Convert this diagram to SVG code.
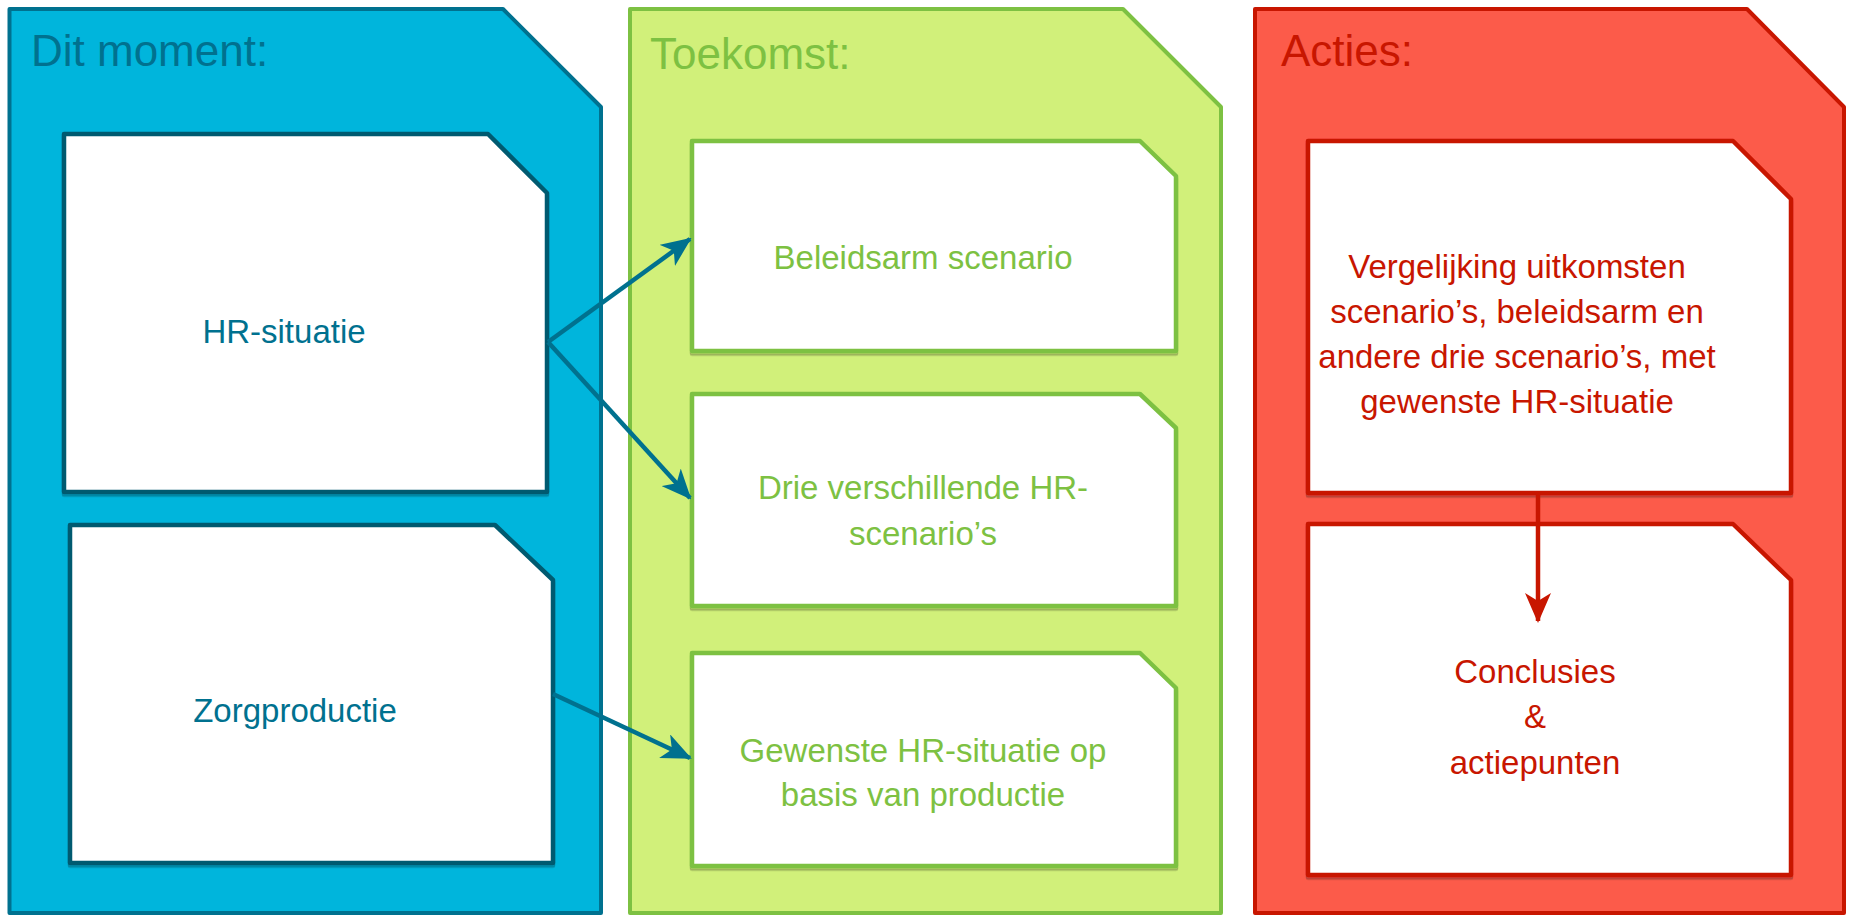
<svg xmlns="http://www.w3.org/2000/svg" width="1849" height="916" viewBox="0 0 1849 916">
<defs>
<style>
.title{font-family:"Liberation Sans",Arial,sans-serif;font-size:44px}
.lbl{font-family:"Liberation Sans",Arial,sans-serif;font-size:33px;text-anchor:middle}
.bpanel{fill:#00b5dc;stroke:#00718f;stroke-width:4;stroke-linejoin:round}
.gpanel{fill:#d1f07a;stroke:#7dc142;stroke-width:4;stroke-linejoin:round}
.rpanel{fill:#fc5b4a;stroke:#c81600;stroke-width:4;stroke-linejoin:round}
.bbox{fill:#fff;stroke:#005a70;stroke-width:4.5;stroke-linejoin:round}
.gbox{fill:#fff;stroke:#7dc142;stroke-width:4.5;stroke-linejoin:round}
.rbox{fill:#fff;stroke:#c81600;stroke-width:4.5;stroke-linejoin:round}
.bt{fill:#00718f}.gt{fill:#7dc142}.rt{fill:#c81600}
.conn-b{stroke:#00718f;stroke-width:4.5;fill:none}
.conn-r{stroke:#c81600;stroke-width:4.5;fill:none}
</style>
<filter id="sh" x="-5%" y="-5%" width="110%" height="110%">
<feDropShadow dx="0" dy="2.5" stdDeviation="0.6" flood-color="#000" flood-opacity="0.25"/>
</filter>
<marker id="ab" markerUnits="userSpaceOnUse" markerWidth="30" markerHeight="26" viewBox="0 0 30 26" refX="28" refY="13" orient="auto">
<path d="M0,0 L30,13 L0,26 L8,13 z" fill="#00718f"/>
</marker>
<marker id="ar" markerUnits="userSpaceOnUse" markerWidth="30" markerHeight="26" viewBox="0 0 30 26" refX="28" refY="13" orient="auto">
<path d="M0,0 L30,13 L0,26 L8,13 z" fill="#c81600"/>
</marker>
</defs>

<g id="panel-dit-moment">
<path class="bpanel" d="M9.5,9 L503,9 L601,107 L601,913 L9.5,913 Z"/>
<text class="title bt" x="31" y="66">Dit moment:</text>
</g>
<g id="panel-toekomst">
<path class="gpanel" d="M630,9 L1123,9 L1221,107 L1221,913 L630,913 Z"/>
<text class="title gt" x="650" y="69">Toekomst:</text>
</g>
<g id="panel-acties">
<path class="rpanel" d="M1255,9 L1747,9 L1844,107 L1844,913 L1255,913 Z"/>
<text class="title rt" x="1281" y="66">Acties:</text>
</g>

<g id="node-hr-situatie">
<path class="bbox" filter="url(#sh)" d="M64,134 L488,134 L547,193 L547,492 L64,492 Z"/>
<text class="lbl bt" x="284" y="343">HR-situatie</text>
</g>
<g id="node-zorgproductie">
<path class="bbox" filter="url(#sh)" d="M70,525 L495,525 L553,580 L553,863 L70,863 Z"/>
<text class="lbl bt" x="295" y="722">Zorgproductie</text>
</g>

<g id="node-beleidsarm">
<path class="gbox" filter="url(#sh)" d="M692,141 L1140,141 L1176,176 L1176,351 L692,351 Z"/>
<text class="lbl gt" x="923" y="269">Beleidsarm scenario</text>
</g>
<g id="node-drie-scenarios">
<path class="gbox" filter="url(#sh)" d="M692,394 L1140,394 L1176,428 L1176,606 L692,606 Z"/>
<text class="lbl gt" x="923" y="499">Drie verschillende HR-</text>
<text class="lbl gt" x="923" y="545">scenario’s</text>
</g>
<g id="node-gewenste">
<path class="gbox" filter="url(#sh)" d="M692,653 L1140,653 L1176,688 L1176,866 L692,866 Z"/>
<text class="lbl gt" x="923" y="762">Gewenste HR-situatie op</text>
<text class="lbl gt" x="923" y="806">basis van productie</text>
</g>

<g id="node-vergelijking">
<path class="rbox" filter="url(#sh)" d="M1308,141 L1733,141 L1791,199 L1791,493 L1308,493 Z"/>
<text class="lbl rt" x="1517" y="278">Vergelijking uitkomsten</text>
<text class="lbl rt" x="1517" y="323">scenario’s, beleidsarm en</text>
<text class="lbl rt" x="1517" y="368">andere drie scenario’s, met</text>
<text class="lbl rt" x="1517" y="413">gewenste HR-situatie</text>
</g>
<g id="node-conclusies">
<path class="rbox" filter="url(#sh)" d="M1308,524 L1733,524 L1791,580 L1791,875 L1308,875 Z"/>
<text class="lbl rt" x="1535" y="683">Conclusies</text>
<text class="lbl rt" x="1535" y="728">&amp;</text>
<text class="lbl rt" x="1535" y="774">actiepunten</text>
</g>

<g id="connectors">
<line class="conn-b" x1="548" y1="342" x2="690" y2="239" marker-end="url(#ab)"/>
<line class="conn-b" x1="548" y1="342" x2="690" y2="498" marker-end="url(#ab)"/>
<line class="conn-b" x1="553" y1="694" x2="690" y2="758" marker-end="url(#ab)"/>
<line class="conn-r" x1="1538" y1="493" x2="1538" y2="621" marker-end="url(#ar)"/>
</g>
</svg>
